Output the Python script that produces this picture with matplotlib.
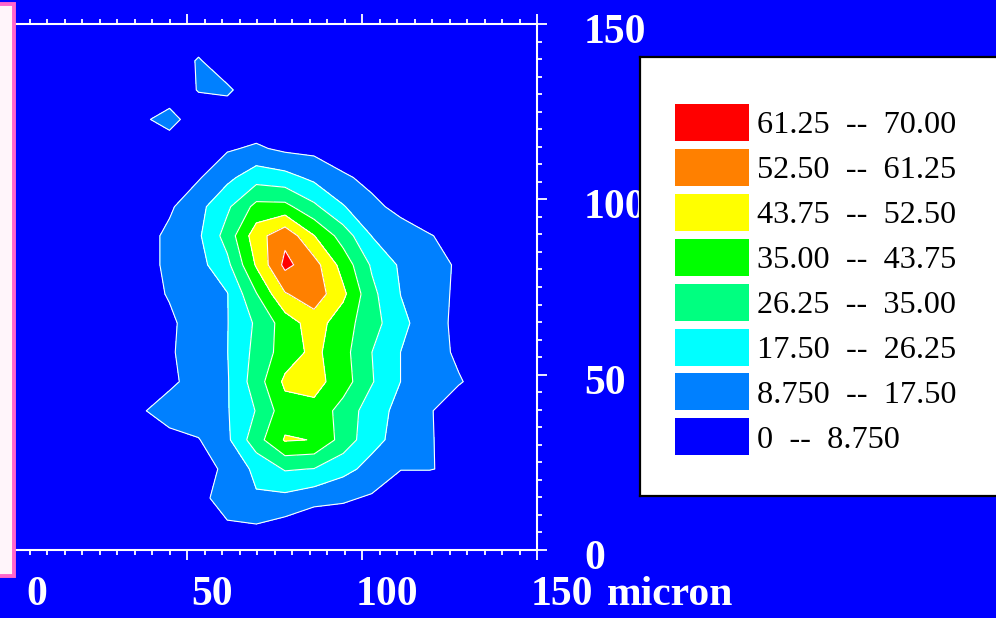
import numpy as np
import matplotlib
matplotlib.use("Agg")
import matplotlib.pyplot as plt
from matplotlib.patches import Rectangle
from matplotlib.ticker import MultipleLocator
from matplotlib import transforms

# Sample grid positions (micron)
x_um = [3.7, 12.0, 20.2, 28.5, 36.7, 45.0, 53.3, 61.5, 69.8, 78.0,
        86.3, 94.6, 102.8, 111.1, 119.3, 127.6, 135.9, 144.1]
y_um = [6.5, 14.8, 23.1, 31.4, 39.7, 48.0, 56.4, 64.7, 73.0, 81.3,
        89.6, 97.9, 106.2, 114.5, 122.8, 131.2, 139.5, 147.8]

# Measured intensity, one row per y position (bottom to top)
intensity = [
    [0, 0, 0, 0, 0, 0, 2, 7.7, 7.8, 5.1, 1, 3.1, 2, 0, 0, 0, 0, 0],
    [0, 0, 0, 0, 0, 2, 6.6, 12, 16.5, 15.3, 12.1, 10, 7.7, 3, 3, 2, 0, 0],
    [0, 0, 0, 0, 0, 3, 5, 10.6, 19.7, 27, 26, 20.3, 14.5, 9.0, 9.0, 7.6, 3, 0],
    [0, 0, 0, 0, 3, 6.1, 8.3, 15.8, 31.4, 44.5, 43.5, 31.5, 20.3, 14.1, 9.5, 4.7, 2, 0],
    [0, 0, 0, 2, 7.8, 12.5, 14, 16.9, 26.7, 40, 41, 31.6, 21.8, 14.6, 9.4, 4.2, 2, 0],
    [0, 0, 0, 0, 4, 7.1, 12, 16.8, 30.7, 45.5, 47, 39.1, 26.9, 17.4, 13.4, 9.4, 5.3, 0],
    [0, 0, 0, 0, 4, 7.8, 12.6, 17.3, 28.9, 39.1, 46, 38, 26.3, 17.4, 12.2, 7.4, 3, 0],
    [0, 0, 0, 0, 4.5, 7.5, 12.2, 17.2, 27.6, 39.1, 48, 38.7, 29.9, 19.7, 12.7, 6.5, 2, 0],
    [0, 0, 0, 0, 5.8, 9.3, 13.2, 17.1, 34.5, 51.8, 57.5, 45.7, 28.6, 17.3, 12.3, 7.2, 2, 0],
    [0, 0, 0, 0, 5.4, 10.4, 14.5, 24, 44.7, 63.5, 56, 40.3, 25.1, 16.2, 12, 7.7, 2, 0],
    [0, 0, 0, 0, 5, 10.6, 16.2, 29.8, 48.6, 59, 44, 31.2, 17.3, 13.3, 9.3, 5.4, 1, 0],
    [0, 0, 0, 0, 2, 7.5, 14.8, 24.7, 37.6, 37.6, 28.1, 18.1, 11.1, 6, 2, 0, 0, 0],
    [0, 0, 0, 0, 0, 3, 8, 15.3, 22.7, 20.6, 15.5, 10.3, 6, 2, 0, 0, 0, 0],
    [0, 0, 0, 0, 0, 0, 3, 7.8, 10, 7, 6.4, 2.2, 0, 0, 0, 0, 0, 0],
    [0, 0, 0, 0, 6, 14, 0, 0, 3, 0, 0, 0, 0, 0, 0, 0, 0, 0],
    [0, 0, 0, 0, 0, 0, 9.5, 11, 0, 0, 0, 0, 0, 0, 0, 0, 0, 0],
    [0, 0, 0, 0, 0, 0, 10, 0, 0, 0, 0, 0, 0, 0, 0, 0, 0, 0],
    [0, 0, 0, 0, 0, 0, 0, 0, 0, 0, 0, 0, 0, 0, 0, 0, 0, 0],
]

levels = [0, 8.75, 17.5, 26.25, 35.0, 43.75, 52.5, 61.25, 70.0]
band_colors = ["#0000FF", "#0080FF", "#00FFFF", "#00FF80",
               "#00FF00", "#FFFF00", "#FF8000", "#FF0000"]
xticks = [0, 50, 100, 150]
yticks = [0, 50, 100, 150]
x_unit = "micron"

BG = "#0000FF"
W, H = 996, 618
fig = plt.figure(figsize=(W / 100, H / 100), dpi=100, facecolor=BG)

# Main contour panel
ax = fig.add_axes([12 / W, 1 - 550 / H, 525 / W, 526 / H])
ax.set_facecolor(BG)
Z = np.array(intensity)
ax.contourf(x_um, y_um, Z, levels=levels, colors=band_colors)
ax.contour(x_um, y_um, Z, levels=levels[1:-1], colors="white", linewidths=0.8)
ax.set_xlim(0, 150)
ax.set_ylim(0, 150)

ax.set_xticks(xticks)
ax.set_yticks(yticks)
ax.xaxis.set_minor_locator(MultipleLocator(5))
ax.yaxis.set_minor_locator(MultipleLocator(5))
ax.tick_params(which="both", direction="out", colors="white",
               top=True, bottom=True, left=False, right=True,
               labelbottom=False, labelleft=False, labeltop=False, labelright=False)
ax.tick_params(which="major", length=7, width=1.3)
ax.tick_params(which="minor", length=3.8, width=1.3)
for s in ax.spines.values():
    s.set_color("white")
    s.set_linewidth(1.5)

serif = ["Liberation Serif", "DejaVu Serif"]
tick_font = dict(family=serif, weight="bold", size=30, color="white")


def shift(dx_px, dy_px):
    return transforms.ScaledTranslation(dx_px / 100, dy_px / 100, fig.dpi_scale_trans)


xtrans = transforms.blended_transform_factory(ax.transData, ax.transAxes)
for v in xticks:
    ax.text(v, 0, f"{v}", transform=xtrans + shift(25, -55),
            ha="center", va="baseline", clip_on=False, **tick_font)
ax.text(150, 0, x_unit, transform=xtrans + shift(70, -55),
        ha="left", va="baseline", clip_on=False, **tick_font)

ytrans = transforms.blended_transform_factory(ax.transAxes, ax.transData)
for v in yticks:
    ax.text(1, v, f"{v}", transform=ytrans + shift(47, -19),
            ha="left", va="baseline", clip_on=False, **tick_font)

# Side panel frame on the left edge
pix = transforms.Affine2D().scale(1 / W, 1 / H) + fig.transFigure
fig.patches.append(Rectangle((-10, H - 576), 24.0, 572, transform=pix,
                             facecolor="#FFF5FA", edgecolor="#FF66CC",
                             linewidth=2.8, zorder=10))

# Legend panel
lax = fig.add_axes([640 / W, 1 - 496 / H, 360 / W, 439 / H])
lax.set_facecolor("white")
lax.set_xlim(0, 360)
lax.set_ylim(439, 0)
lax.set_xticks([])
lax.set_yticks([])
for s in lax.spines.values():
    s.set_color("black")
    s.set_linewidth(1.6)


def fmt(v):
    return "0" if v == 0 else "%#.4g" % v


bands = list(zip(levels[:-1], levels[1:], band_colors))[::-1]
for k, (lo, hi, col) in enumerate(bands):
    top = 47 + 44.9 * k
    lax.add_patch(Rectangle((35, top), 74, 37, facecolor=col, edgecolor="none"))
    lax.text(117, top + 29.3, f"{fmt(lo)}  --  {fmt(hi)}", family=serif,
             size=23.2, color="black", ha="left", va="baseline")

fig.savefig("out.png", dpi=100, facecolor=BG)
